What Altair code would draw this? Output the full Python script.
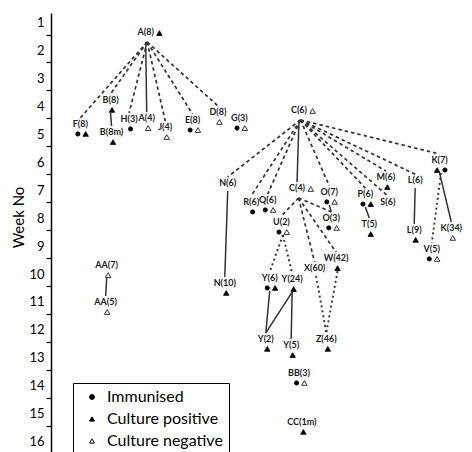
import altair as alt
import pandas as pd

# ---------------- data ----------------
week_ticks = list(range(1, 17))

node_names = ["A(8)", "F(8)", "B(8)", "B(8m)", "H(3)", "A(4)", "J(4)", "E(8)", "D(8)", "G(3)",
              "C(6)", "N(6)", "N(10)", "R(6)", "Q(6)", "C(4)", "U(2)", "O(7)", "O(3)", "P(6)",
              "T(5)", "S(6)", "M(6)", "L(6)", "L(9)", "K(7)", "K(34)", "V(5)", "Y(6)", "Y(24)",
              "X(60)", "W(42)", "Y(2)", "Y(5)", "Z(46)", "BB(3)", "CC(1m)", "AA(7)", "AA(5)"]
# horizontal lane of each node (layout units)
node_x = [148, 81, 112, 113, 131, 149, 168, 196, 222, 244,
          305, 232, 229, 256, 273, 303, 287, 336, 338, 373,
          377, 396, 394, 424, 423, 449, 461, 441, 275, 298,
          321, 343, 271, 297, 333, 305, 308, 108, 107]
# week (label position)
node_week = [1.34, 4.63, 3.77, 4.92, 4.45, 4.42, 4.74, 4.49, 4.20, 4.42,
             4.13, 6.74, 10.32, 7.42, 7.35, 6.92, 8.14, 7.06, 7.99, 7.14,
             8.21, 7.42, 6.53, 6.64, 8.42, 5.92, 8.35, 9.10, 10.14, 10.18,
             9.78, 9.43, 12.32, 12.54, 12.32, 13.54, 15.29, 9.68, 11.00]
# markers under each label: i = immunised, p = culture positive, n = culture negative
node_marks = ["", "ip", "p", "p", "i", "n", "n", "in", "n", "in",
              "", "", "p", "i", "in", "", "in", "in", "in", "ip",
              "p", "", "p", "", "p", "pi", "n", "in", "ip", "p",
              "", "p", "p", "p", "p", "in", "p", "n", "n"]
# markers written beside the label
inline_nodes = ["A(8)", "C(6)", "C(4)"]
inline_marks = ["p", "n", "n"]

edge_from = ["A(8)", "A(8)", "A(8)", "A(8)", "A(8)", "A(8)", "A(8)", "B(8)",
             "C(6)", "C(6)", "C(6)", "C(6)", "C(6)", "C(6)", "C(6)", "C(6)", "C(6)", "C(6)",
             "N(6)", "C(4)", "C(4)", "C(4)", "C(4)", "O(7)", "P(6)", "L(6)", "K(7)", "K(7)",
             "U(2)", "U(2)", "Y(6)", "Y(24)", "Y(24)", "X(60)", "W(42)", "AA(7)"]
edge_to = ["F(8)", "B(8)", "H(3)", "A(4)", "J(4)", "E(8)", "D(8)", "B(8m)",
           "N(6)", "R(6)", "Q(6)", "C(4)", "O(7)", "P(6)", "S(6)", "M(6)", "L(6)", "K(7)",
           "N(10)", "U(2)", "O(3)", "X(60)", "W(42)", "O(3)", "T(5)", "L(9)", "K(34)", "V(5)",
           "Y(6)", "Y(24)", "Y(2)", "Y(2)", "Y(5)", "Z(46)", "Z(46)", "AA(5)"]
edge_style = ["dashed", "dashed", "dashed", "solid", "dashed", "dashed", "dashed", "solid",
              "dashed", "dashed", "dashed", "solid", "dashed", "dashed", "dashed", "dashed", "dashed", "dashed",
              "solid", "dashed", "dashed", "dashed", "dashed", "solid", "solid", "solid", "solid", "dotted",
              "dotted", "dotted", "solid", "solid", "solid", "dotted", "dotted", "solid"]

types = ["Immunised", "Culture positive", "Culture negative"]
code_to_type = {"i": types[0], "p": types[1], "n": types[2]}

# ---------------- tables ----------------
PPW = 27.95  # pixels per week of the plot scale (for small label offsets)
nodes = pd.DataFrame({"name": node_names, "x": node_x, "y": node_week, "marks": node_marks})
pos = {n: (x, w, m) for n, x, w, m in zip(node_names, node_x, node_week, node_marks)}

mrows = []
for n, x, w, m in zip(node_names, node_x, node_week, node_marks):
    k = len(m)
    for i, c in enumerate(m):
        mrows.append({"x": x + 1.5 + (i - (k - 1) / 2) * 8, "y": w + 10 / PPW, "type": code_to_type[c]})
for n, c in zip(inline_nodes, inline_marks):
    x, w, _ = pos[n]
    mrows.append({"x": x + 14, "y": w + 1 / PPW, "type": code_to_type[c]})
marks_df = pd.DataFrame(mrows)

erows = []
for f, t, s in zip(edge_from, edge_to, edge_style):
    fx, fw, fm = pos[f]
    tx, tw, _ = pos[t]
    off = 10 if f in inline_nodes else (13 if fm else 8)
    erows.append({"x": fx + (0 if s == "solid" else 1.5), "y": fw + off / PPW,
                  "x2": tx, "y2": tw - 6 / PPW, "style": s})
edges_df = pd.DataFrame(erows)

# ---------------- chart ----------------
FONT = "Lato"
sx = alt.Scale(domain=[51, 474], nice=False, zero=False)
sy = alt.Scale(domain=[0.660, 16.367], reverse=True, nice=False, zero=False)
yaxis = alt.Axis(title="Week No", values=week_ticks, tickOffset=12, labelOffset=-12,
                 tickSize=5, tickColor="black", tickWidth=1.2, domainColor="black", domainWidth=1.5,
                 labelFont=FONT, labelFontSize=13, labelColor="black", labelPadding=2,
                 titleFont=FONT, titleFontSize=15, titleFontWeight="normal", titleColor="black",
                 titleX=-33, titleY=204, titleAngle=270, titleAlign="center", titleBaseline="middle",
                 grid=False)

X = alt.X("x:Q", scale=sx, axis=None)
Y = alt.Y("y:Q", scale=sy, axis=yaxis)

edges = alt.Chart(edges_df).mark_rule(color="#333333").encode(
    x=X, y=Y, x2="x2:Q", y2="y2:Q",
    strokeDash=alt.StrokeDash("style:N", scale=alt.Scale(domain=["solid", "dashed", "dotted"],
                                                         range=[[1, 0], [3.5, 3], [2, 3]]), legend=None),
    strokeWidth=alt.StrokeWidth("style:N", scale=alt.Scale(domain=["solid", "dashed", "dotted"],
                                                           range=[1.5, 1.9, 1.7]), legend=None),
)

legend = alt.Legend(title=None, orient="none", legendX=22, legendY=370, padding=6,
                    strokeColor="black", fillColor="white", labelFont=FONT, labelFontSize=16,
                    labelColor="black", symbolSize=24, symbolStrokeColor="black",
                    symbolStrokeWidth=1, rowPadding=6, labelOffset=7, symbolOffset=5)

point_enc = dict(
    x=X, y=Y,
    shape=alt.Shape("type:N", scale=alt.Scale(domain=types, range=["circle", "triangle-up", "triangle-up"]),
                    legend=legend),
    fill=alt.Fill("type:N", scale=alt.Scale(domain=types, range=["black", "black", "white"]), legend=legend),
    stroke=alt.Stroke("type:N", scale=alt.Scale(domain=types, range=["black", "black", "black"]), legend=legend),
)
base_pts = alt.Chart(marks_df)
circles = base_pts.transform_filter(alt.datum.type == types[0]).mark_point(
    filled=True, strokeWidth=0.8, opacity=1, size=18).encode(**point_enc)
triangles = base_pts.transform_filter(alt.datum.type != types[0]).mark_point(
    filled=True, strokeWidth=0.8, opacity=1, size=30).encode(**point_enc)

labels = alt.Chart(nodes).mark_text(font=FONT, fontSize=9, fontWeight="bold", color="#1a1a1a",
                                    align="center", baseline="middle").encode(x=X, y=Y, text="name:N")

chart = alt.layer(edges, circles, triangles, labels).properties(
    width=413, height=439,
    padding={"left": 43, "top": 5, "right": 0, "bottom": 0},
    autosize=alt.AutoSizeParams(type="none"),
).configure_view(stroke=None)

chart.save("out.html", embed_options={"renderer": "svg", "actions": False})
